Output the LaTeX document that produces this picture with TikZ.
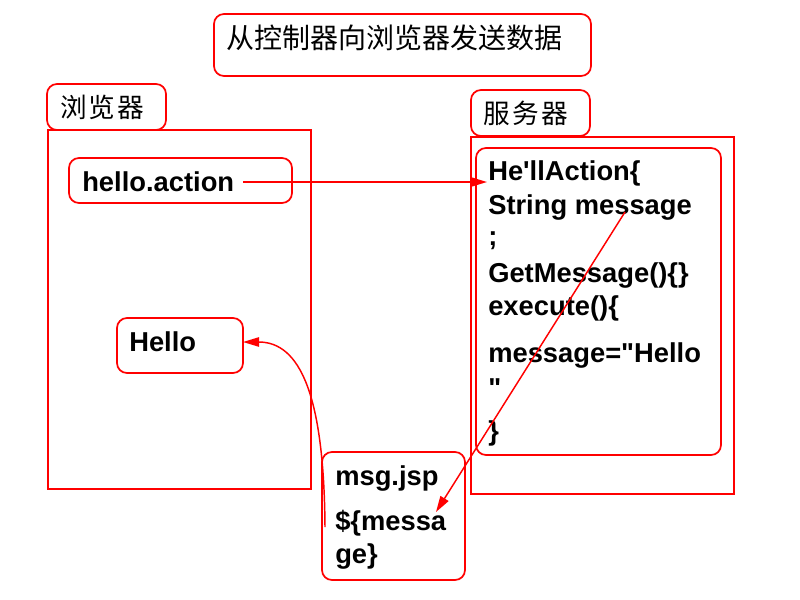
\documentclass[tikz,border=0pt]{standalone}
\usepackage{fontspec}
\setmainfont{Liberation Sans}[Ligatures=TeXOff]
\newfontfamily\cjk{Noto Sans CJK SC}
\usetikzlibrary{arrows.meta}
\begin{document}
\begin{tikzpicture}[x=0.75pt,y=-0.75pt,
  frame/.style={draw=red,line width=1.3pt,rounded corners=7.5pt,minimum width=#1,inner sep=0pt},
  sqframe/.style={draw=red,line width=1.3pt,inner sep=0pt},
  code/.style={anchor=base west,inner sep=0pt,font=\fontsize{20.5}{24}\selectfont\bfseries},
  cjktext/.style={anchor=west,inner sep=0pt,font=\fontsize{20}{24}\selectfont\cjk},
  conn/.style={draw=red,line width=1.1pt,-{Triangle[length=12pt,width=7pt]}}
]
\useasboundingbox (0,0) rectangle (800,600);
% boxes
\node[frame=282.75pt,minimum height=46.5pt] (title) at (402.5,45) {};
\node[frame=89.25pt,minimum height=34.5pt] (blabel) at (106.5,107) {};
\node[sqframe,minimum width=197.25pt,minimum height=269.25pt] (bbox) at (179.5,309.5) {};
\node[frame=167.25pt,minimum height=33.75pt] (hact) at (180.5,180.5) {};
\node[frame=94.5pt,minimum height=41.25pt] (hello) at (180,345.5) {};
\node[frame=89.25pt,minimum height=34.5pt] (slabel) at (530.5,113) {};
\node[sqframe,minimum width=197.25pt,minimum height=267.75pt] (sbox) at (602.5,315.5) {};
\node[frame=183.75pt,minimum height=230.25pt] (codebox) at (598.5,301.5) {};
\node[frame=107.25pt,minimum height=96pt] (msg) at (393.5,516) {};
% texts
\node[anchor=west,inner sep=0pt,font=\fontsize{21}{24}\selectfont\cjk] (ttext) at (226,38) {从控制器向浏览器发送数据};
\node[cjktext] (btext) at (60,107) {浏\hspace{1.5pt}览\hspace{1.5pt}器};
\node[cjktext] (stext) at (483,113) {服\hspace{2pt}务\hspace{2pt}器};
\node[code] (t1) at (82,191) {hello.action};
\node[code] (t2) at (129,351) {Hello};
\node[code] (c1) at (488,180) {He'llAction\{};
\node[code] (c2) at (488,214) {String message};
\node[code] (c3) at (488,245) {;};
\node[code] (c4) at (488,282) {GetMessage()\{\}};
\node[code] (c5) at (488,315) {execute()\{};
\node[code] (c6) at (488,362) {message="Hello};
\node[code] (c7) at (488,397) {"};
\node[code] (c8) at (488,440) {\}};
\node[code] (m1) at (335,485) {msg.jsp};
\node[code] (m2) at (335,530) {\$\{messa};
\node[code] (m3) at (335,563) {ge\}};
% connector ends
\coordinate (a1s) at (243,182);
\coordinate (a1e) at (487,182);
\coordinate (a2s) at (625,212);
\coordinate (a2e) at (436,512);
\coordinate (a3s) at (325,527);
\coordinate (a3e) at (243,342);
\draw[conn] (a1s) -- (a1e);
\draw[conn] (a2s) -- (a2e);
\draw[conn] (a3s) .. controls (324,395) and (300,342) .. (a3e);
\end{tikzpicture}
\end{document}
